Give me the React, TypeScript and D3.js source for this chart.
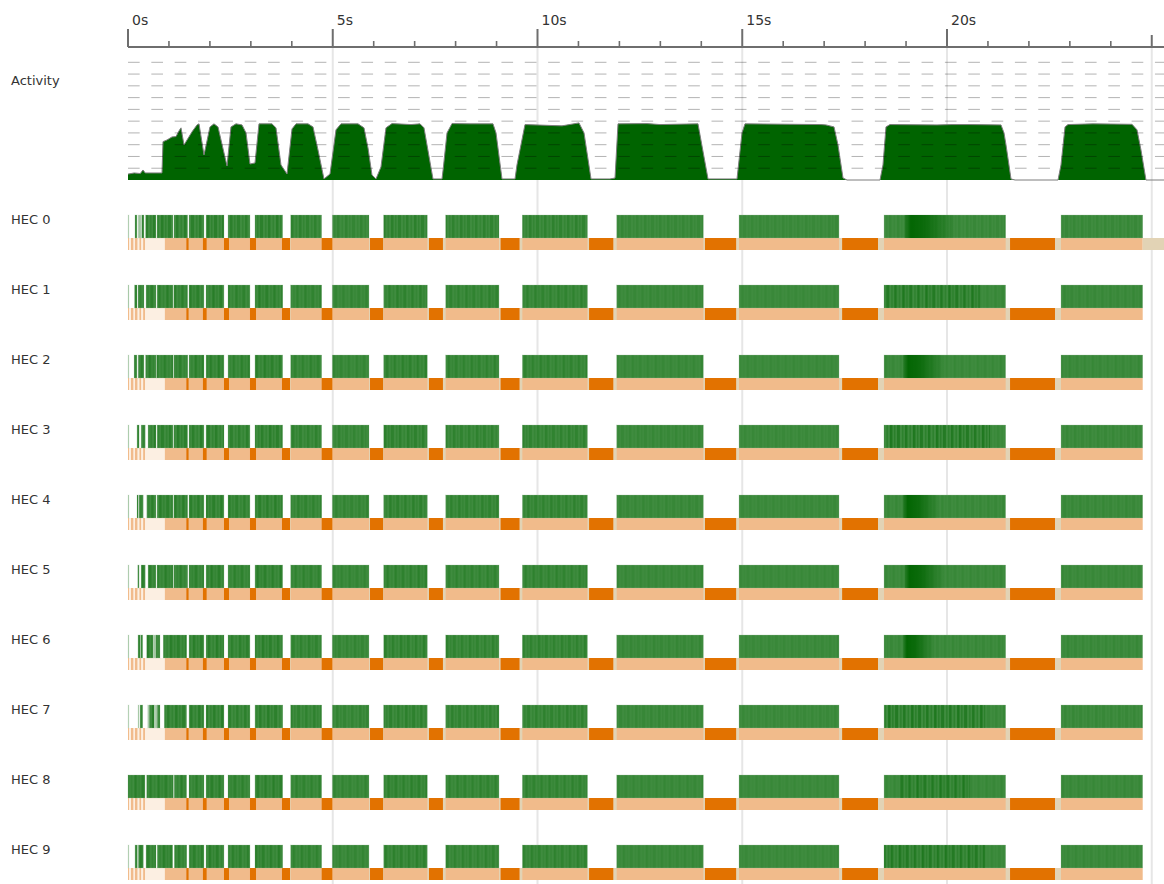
import React from 'react';
import * as d3 from 'd3';

// ---------- data ----------
const hecNames = ['HEC 0', 'HEC 1', 'HEC 2', 'HEC 3', 'HEC 4', 'HEC 5', 'HEC 6', 'HEC 7', 'HEC 8', 'HEC 9'];
const majorTicks = [0, 5, 10, 15, 20];
const tickLabels = ['0s', '5s', '10s', '15s', '20s'];
const minorTicks = [1, 2, 3, 4, 6, 7, 8, 9, 11, 12, 13, 14, 16, 17, 18, 19, 21, 22, 23, 24];
const edgeTicks = [25];
const gridTimes = [5, 10, 15, 20, 25];
const activityLevels = [1, 2, 3, 4, 5, 6, 7, 8, 9, 10];

// activity profile: [time s, running HECs]
const activity: [number, number][] = [
  [0, 0.5], [0.15, 0.6], [0.3, 0.55], [0.366, 0.85], [0.42, 0.6], [0.83, 0.6], [0.855, 3.26], [0.952, 3.4],
  [1.074, 3.66], [1.172, 3.69], [1.245, 4.17], [1.294, 4.43], [1.368, 2.98], [1.563, 4.09], [1.685, 4.68],
  [1.734, 4.77], [1.856, 2.13], [2.002, 4.51], [2.1, 4.77], [2.198, 4.51], [2.418, 1.19], [2.515, 4.51],
  [2.637, 4.77], [2.784, 4.68], [2.882, 4.0], [2.979, 1.36], [3.101, 1.45], [3.199, 4.77], [3.516, 4.77],
  [3.614, 4.43], [3.736, 1.28], [3.883, 0.51], [4.005, 4.34], [4.103, 4.77], [4.396, 4.77], [4.518, 4.51],
  [4.64, 2.55], [4.786, 0.09], [4.933, 0.51], [5.079, 4.26], [5.201, 4.77], [5.617, 4.77], [5.763, 4.43],
  [5.861, 2.72], [5.958, 0.43], [6.056, 0.09], [6.178, 1.11], [6.3, 4.43], [6.447, 4.79], [6.911, 4.71],
  [7.131, 4.77], [7.228, 4.43], [7.448, 0.09], [7.668, 0.09], [7.7, 1.02], [7.79, 4.0], [7.912, 4.79],
  [8.352, 4.77], [8.913, 4.77], [8.987, 4.0], [9.133, 0.09], [9.451, 0.09], [9.499, 1.28], [9.695, 4.71],
  [10.598, 4.6], [11.013, 4.85], [11.136, 4.0], [11.307, 0.09], [11.77, 0.09], [11.893, 0.17], [11.966, 4.77],
  [12.674, 4.79], [12.991, 4.71], [13.919, 4.77], [14.164, 0.09], [14.872, 0.09], [14.994, 4.0], [15.067, 4.77],
  [16.923, 4.71], [17.045, 4.68], [17.241, 4.51], [17.338, 2.98], [17.46, 0.17], [17.558, 0], [18.364, 0],
  [18.437, 1.28], [18.51, 4.51], [18.608, 4.71], [19.756, 4.68], [20.122, 4.71], [20.562, 4.71], [21.319, 4.68],
  [21.392, 4.0], [21.441, 2.98], [21.563, 0.09], [21.661, 0], [22.711, 0], [22.784, 1.28], [22.882, 4.51],
  [22.955, 4.71], [23.565, 4.77], [24.518, 4.73], [24.64, 4.26], [24.737, 2.55], [24.859, 0], [25.3, 0],
];

// mutator blocks shared by all HECs: [start, end, stripe intensity]
const commonBlocks: [number, number, number][] = [
  [1.49, 1.856, 0.9], [1.905, 2.344, 0.95], [2.442, 2.979, 0.8], [3.101, 3.778, 0.9], [3.973, 4.73, 0.7],
  [4.989, 5.885, 0.55], [6.244, 7.309, 0.8], [7.758, 9.06, 0.7], [9.63, 11.22, 0.7], [11.934, 14.05, 0.4],
  [14.921, 17.363, 0.3], [18.462, 21.433, 0.35], [22.784, 24.779, 0.35],
];

// early (start-up) blocks per HEC: [start, end, weight]
const earlyBlocks: [number, number, number][][] = [
  [[0, 0.024, 0.45], [0.171, 0.22, 1], [0.25, 0.317, 0.45], [0.335, 0.39, 1], [0.432, 0.684, 1], [0.708, 1.099, 1], [1.123, 1.458, 1]],
  [[0, 0.024, 0.45], [0.16, 0.22, 1], [0.245, 0.39, 1], [0.44, 0.684, 1], [0.71, 1.1, 1], [1.12, 1.458, 1]],
  [[0, 0.024, 0.45], [0.15, 0.22, 1], [0.25, 0.39, 1], [0.43, 0.684, 1], [0.7, 1.1, 1], [1.12, 1.458, 1]],
  [[0, 0.024, 0.45], [0.22, 0.27, 1], [0.32, 0.42, 1], [0.49, 0.684, 1], [0.71, 1.1, 1], [1.12, 1.458, 1]],
  [[0, 0.024, 0.45], [0.22, 0.25, 1], [0.27, 0.37, 1], [0.46, 0.684, 1], [0.71, 1.1, 1], [1.12, 1.458, 1]],
  [[0, 0.024, 0.45], [0.24, 0.27, 1], [0.32, 0.42, 1], [0.49, 0.684, 1], [0.71, 1.1, 1], [1.12, 1.458, 1]],
  [[0, 0.024, 0.45], [0.244, 0.293, 1], [0.31, 0.36, 1], [0.457, 0.618, 1], [0.635, 0.684, 0.45], [0.684, 0.781, 1], [0.862, 1.433, 1]],
  [[0, 0.024, 0.45], [0.244, 0.269, 0.45], [0.293, 0.36, 1], [0.481, 0.513, 0.45], [0.52, 0.642, 1], [0.66, 0.715, 0.45], [0.715, 0.781, 1], [0.886, 1.433, 1]],
  [[0, 0.415, 1], [0.457, 1.106, 1], [1.13, 1.433, 1]],
  [[0, 0.024, 0.45], [0.171, 0.227, 1], [0.252, 0.374, 1], [0.44, 0.684, 1], [0.715, 1.09, 1], [1.13, 1.433, 1]],
];

// GC (dark orange) periods shared by all HECs
const gcMajor: [number, number][] = [
  [1.426, 1.48], [1.83, 1.92], [2.344, 2.466], [2.979, 3.126], [3.76, 3.956], [4.73, 4.99], [5.91, 6.23],
  [7.35, 7.69], [9.1, 9.56], [11.26, 11.85], [14.09, 14.85], [17.44, 18.315], [21.54, 22.637],
];

// pale start-up periods of the GC strip
const palePeriods: [number, number][] = [[0.024, 0.073], [0.13, 0.17], [0.23, 0.28], [0.32, 0.37], [0.415, 0.9]];

// per-HEC busy span inside the 20s block
const hotSpans: [number, number, string][] = [
  [18.97, 20.2, 'solid'], [18.46, 20.8, 'stripes'], [18.93, 19.95, 'solid'], [18.46, 21.05, 'stripes'],
  [18.93, 19.83, 'solid'], [18.97, 19.95, 'solid'], [18.93, 19.7, 'solid'], [18.46, 20.93, 'stripes'],
  [18.85, 20.56, 'stripes'], [18.46, 20.93, 'stripes'],
];

const stripEnd = [25.3, 24.779, 24.779, 24.779, 24.779, 24.779, 24.779, 24.779, 24.779, 24.779];

// ---------- layout ----------
const W = 1164;
const H = 884;
const axisY = 47;
const rowTop0 = 215;
const rowStep = 70;
const greenH = 23;
const gcH = 12;

const x = d3.scaleLinear().domain([0, 25]).range([128, 1151.75]);
const yA = d3.scaleLinear().domain([0, 10]).range([180, 62.3]);

const GREEN = '#3f8c3f';
const DARKGREEN = '#006400';
const LIGHTORANGE = '#f1bb8b';
const DARKORANGE = '#e27200';
const TAN = '#e2d3b5';
const PALE = '#fcefe2';
const FONT = '"DejaVu Sans", Verdana, sans-serif';

export default function App() {
  const area = d3.area<[number, number]>().x((d) => x(d[0])).y0(yA(0)).y1((d) => yA(d[1]));
  const line = d3.line<[number, number]>().x((d) => x(d[0])).y((d) => yA(d[1]));

  return (
    <svg width={W} height={H} style={{ position: 'absolute', left: 0, top: 0, background: '#fff' }}
      fontFamily={FONT}>
      <defs>
        {hecNames.map((_, i) => (
          <pattern key={i} id={`stripes${i}`} patternUnits="userSpaceOnUse" width={23} height={30}
            patternTransform={`translate(${i * 5.3},0)`}>
            <rect x={0} y={0} width={2.5} height={30} fill={DARKGREEN} opacity={0.7} />
            <rect x={4} y={0} width={1.5} height={30} fill={DARKGREEN} opacity={0.45} />
            <rect x={7} y={0} width={3} height={30} fill={DARKGREEN} opacity={0.6} />
            <rect x={12} y={0} width={1.5} height={30} fill={DARKGREEN} opacity={0.4} />
            <rect x={15} y={0} width={2.5} height={30} fill={DARKGREEN} opacity={0.65} />
            <rect x={19.5} y={0} width={1.5} height={30} fill={DARKGREEN} opacity={0.4} />
          </pattern>
        ))}
        <linearGradient id="hot" x1="0" x2="1" y1="0" y2="0">
          <stop offset="0" stopColor={DARKGREEN} stopOpacity={0.35} />
          <stop offset="0.12" stopColor={DARKGREEN} stopOpacity={0.95} />
          <stop offset="0.4" stopColor={DARKGREEN} stopOpacity={0.8} />
          <stop offset="1" stopColor={DARKGREEN} stopOpacity={0} />
        </linearGradient>
      </defs>

      {/* vertical grid */}
      {gridTimes.map((t) => (
        <line key={t} x1={x(t)} x2={x(t)} y1={axisY} y2={H} stroke="#e6e6e6" strokeWidth={2} />
      ))}

      {/* axis */}
      <line x1={x(0)} x2={W} y1={axisY} y2={axisY} stroke="#6e6e6e" strokeWidth={2} />
      {majorTicks.map((t, i) => (
        <g key={t}>
          <line x1={x(t)} x2={x(t)} y1={29} y2={axisY} stroke="#6e6e6e" strokeWidth={2} />
          <text x={x(t) + 4} y={25} fontSize={14} fill="#333">{tickLabels[i]}</text>
        </g>
      ))}
      {minorTicks.map((t) => (
        <line key={t} x1={x(t)} x2={x(t)} y1={41} y2={axisY} stroke="#6e6e6e" strokeWidth={1.6} />
      ))}
      {edgeTicks.map((t) => (
        <line key={t} x1={x(t)} x2={x(t)} y1={35} y2={axisY} stroke="#6e6e6e" strokeWidth={2} />
      ))}

      {/* activity */}
      <text x={11} y={84.5} fontSize={13} fill="#333">Activity</text>
      <path d={area(activity) || ''} fill={DARKGREEN} />
      <path d={line(activity) || ''} fill="none" stroke="#7d7d7d" strokeWidth={1} />
      {activityLevels.map((k) => (
        <line key={k} x1={x(0)} x2={W} y1={yA(k)} y2={yA(k)} stroke="#000" strokeOpacity={0.3}
          strokeWidth={1} strokeDasharray="11.67 11.67" />
      ))}

      {/* HEC rows */}
      {hecNames.map((name, i) => {
        const top = rowTop0 + rowStep * i;
        const gcTop = top + greenH;
        const blocks: [number, number, number][] = [
          ...earlyBlocks[i].map((b) => [b[0], b[1], 0.9] as [number, number, number]),
          ...commonBlocks,
        ];
        const weights = [...earlyBlocks[i].map((b) => b[2]), ...commonBlocks.map(() => 1)];
        const lastEnd = commonBlocks[commonBlocks.length - 1][1];
        const tans: [number, number][] = [];
        gcMajor.forEach(([a, b]) => {
          const prev = d3.max(blocks.filter((bl) => bl[1] <= a + 0.05), (bl) => bl[1]);
          const next = d3.min(blocks.filter((bl) => bl[0] >= b - 0.05), (bl) => bl[0]);
          if (prev !== undefined && prev < a) tans.push([prev, a]);
          if (next !== undefined && next > b) tans.push([b, next]);
        });
        if (stripEnd[i] > lastEnd) tans.push([lastEnd, stripEnd[i]]);
        const hot = hotSpans[i];
        return (
          <g key={name}>
            <text x={11} y={top + 8.5} fontSize={13} fill="#333">{name}</text>
            {/* GC strip */}
            <rect x={x(0)} y={gcTop} width={x(lastEnd) - x(0)} height={gcH} fill={LIGHTORANGE} />
            {palePeriods.map(([a, b], j) => (
              <rect key={'p' + j} x={x(a)} y={gcTop} width={x(b) - x(a)} height={gcH} fill={PALE} />
            ))}
            {tans.map(([a, b], j) => (
              <rect key={'t' + j} x={x(a)} y={gcTop} width={x(b) - x(a)} height={gcH} fill={TAN} />
            ))}
            {gcMajor.map(([a, b], j) => (
              <rect key={'g' + j} x={x(a)} y={gcTop} width={x(b) - x(a)} height={gcH} fill={DARKORANGE} />
            ))}
            {/* mutator blocks */}
            {blocks.map((bl, j) => (
              <g key={'b' + j} opacity={weights[j]}>
                <rect x={x(bl[0])} y={top} width={x(bl[1]) - x(bl[0])} height={greenH} fill={GREEN}
                  stroke="#9fbf9f" strokeOpacity={0.5} strokeWidth={0.6} />
                <rect x={x(bl[0])} y={top} width={x(bl[1]) - x(bl[0])} height={greenH}
                  fill={`url(#stripes${i})`} opacity={bl[2] * 0.55} />
              </g>
            ))}
            {hot[2] === 'solid' ? (
              <rect x={x(hot[0])} y={top} width={x(hot[1]) - x(hot[0])} height={greenH} fill="url(#hot)" />
            ) : (
              <rect x={x(hot[0])} y={top} width={x(hot[1]) - x(hot[0])} height={greenH}
                fill={`url(#stripes${i})`} opacity={0.6} />
            )}
          </g>
        );
      })}
    </svg>
  );
}
